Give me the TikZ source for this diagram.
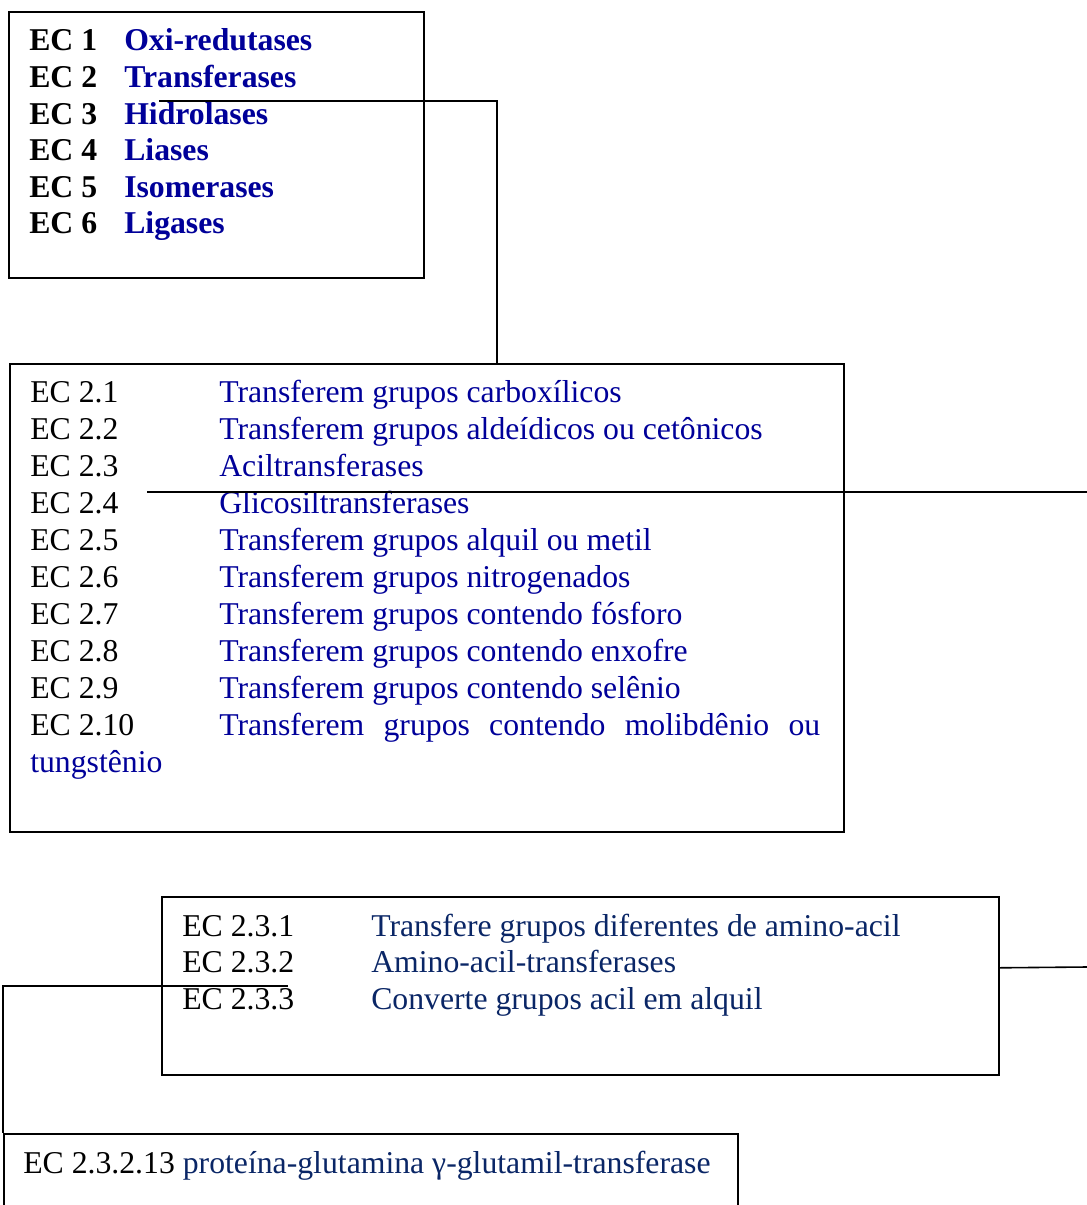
\documentclass[tikz,border=0pt]{standalone}
\usepackage{fontspec}
\setmainfont{Liberation Serif}
\definecolor{ecblue}{RGB}{0,0,153}
\definecolor{ecnavy}{RGB}{10,38,102}
\tikzset{every node/.style={inner sep=0pt}, box/.style={draw, line width=1.2pt, anchor=north west, inner sep=0pt},
  lines/.style={anchor=base west, font=\fontsize{23.8pt}{27.45pt}\selectfont}, link/.style={line width=1.2pt}}

\begin{document}
\begin{tikzpicture}[x=0.75pt, y=-0.75pt]
            \useasboundingbox (0,0) rectangle (1087,1205);
            \node [box, minimum width=311.25pt, minimum height=199.5pt] (classes) at (8,11) {};
            \node [box, minimum width=625.5pt, minimum height=351pt] (sub) at (9,363) {};
            \node [box, minimum width=627.75pt, minimum height=133.5pt] (acil) at (161,896) {};
            \node [box, minimum width=550.5pt, minimum height=80pt] (tgase) at (3,1133) {};

            \node [lines] (classtext) at (29,51) {\bfseries\begin{tabular}[t]{@{}p{71.25pt}@{}l@{}}
                EC 1 & \textcolor{ecblue}{Oxi-redutases}\\
                EC 2 & \textcolor{ecblue}{Transferases}\\
                EC 3 & \textcolor{ecblue}{Hidrolases}\\
                EC 4 & \textcolor{ecblue}{Liases}\\
                EC 5 & \textcolor{ecblue}{Isomerases}\\
                EC 6 & \textcolor{ecblue}{Ligases}
            \end{tabular}};
            \node [lines, font=\fontsize{23.8pt}{27.75pt}\selectfont] (subtext) at (30,402) {\begin{tabular}[t]{@{}p{141.75pt}@{}l@{}}
                EC 2.1 & \textcolor{ecblue}{Transferem grupos carboxílicos}\\
                EC 2.2 & \textcolor{ecblue}{Transferem grupos aldeídicos ou cetônicos}\\
                EC 2.3 & \textcolor{ecblue}{Aciltransferases}\\
                EC 2.4 & \textcolor{ecblue}{Glicosiltransferases}\\
                EC 2.5 & \textcolor{ecblue}{Transferem grupos alquil ou metil}\\
                EC 2.6 & \textcolor{ecblue}{Transferem grupos nitrogenados}\\
                EC 2.7 & \textcolor{ecblue}{Transferem grupos contendo fósforo}\\
                EC 2.8 & \textcolor{ecblue}{Transferem grupos contendo enxofre}\\
                EC 2.9 & \textcolor{ecblue}{Transferem grupos contendo selênio}\\
                EC 2.10 & \textcolor{ecblue}{\makebox[450.75pt][s]{Transferem grupos contendo molibdênio ou}}\\
                \multicolumn{2}{@{}l@{}}{\textcolor{ecblue}{tungstênio}}
            \end{tabular}};
            \node [lines, font=\fontsize{23.8pt}{27.4pt}\selectfont] (aciltext) at (182,936) {\begin{tabular}[t]{@{}p{141.75pt}@{}l@{}}
                EC 2.3.1 & \textcolor{ecnavy}{Transfere grupos diferentes de amino-acil}\\
                EC 2.3.2 & \textcolor{ecnavy}{Amino-acil-transferases}\\
                EC 2.3.3 & \textcolor{ecnavy}{Converte grupos acil em alquil}
            \end{tabular}};
            \node [lines] (tgasetext) at (23,1173) {EC 2.3.2.13 \textcolor{ecnavy}{proteína-glutamina γ-glutamil-transferase}};

            % connectors
            \coordinate (from2) at (159,101);
            \coordinate (from23) at (147,492);
            \coordinate (to23) at (1087,492);
            \coordinate (to232) at (1087,967);
            \coordinate (from232) at (288,986);
            \draw [link] (from2) -| ([xshift=366pt]sub.north west);
            \draw [link] (from23) -- (to23);
            \draw [link] ([yshift=13.5pt]acil.east) -- (to232);
            \draw [link] (from232) -| (tgase.north west);
        \end{tikzpicture}
\end{document}
